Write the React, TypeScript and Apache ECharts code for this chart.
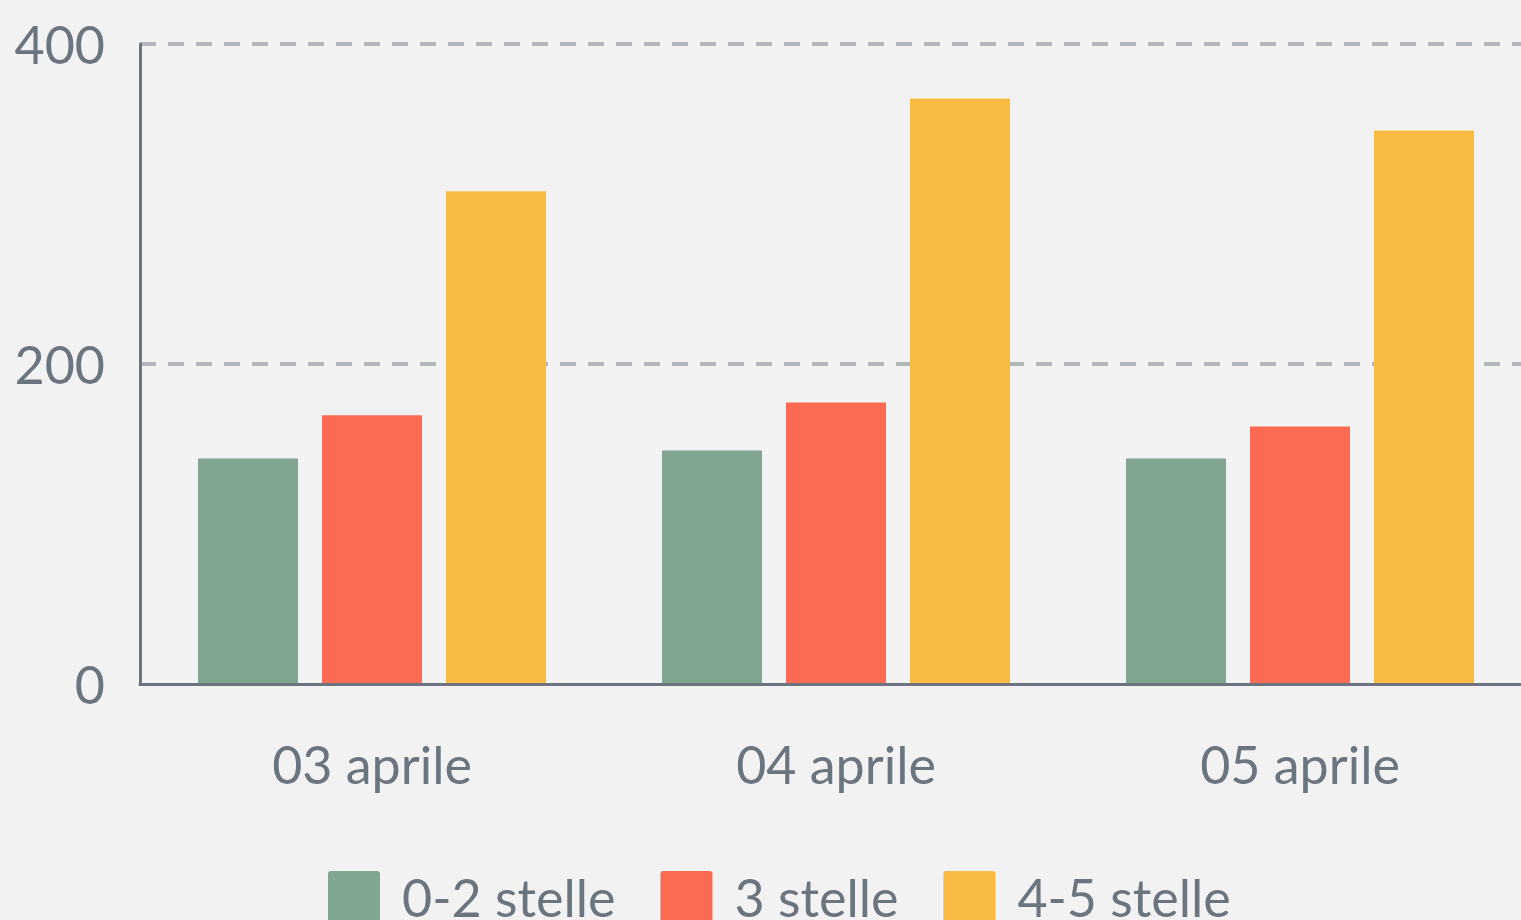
import React, { useEffect, useRef } from "react";
import * as echarts from "echarts";

const categories = ["03 aprile", "04 aprile", "05 aprile"];
const seriesNames = ["0-2 stelle", "3 stelle", "4-5 stelle"];
const low = [141, 146, 141];
const mid = [168, 176, 161];
const high = [308, 366, 346];
const yTicks = { min: 0, max: 400, interval: 200 };

const colors = ["#80a690", "#fb6a53", "#f9bb41"];
const textColor = "#6b7580";
const font = "Lato";

export default function App() {
  const ref = useRef<HTMLDivElement>(null);
  useEffect(() => {
    if (!ref.current) return;
    const chart = echarts.init(ref.current, null, { renderer: "svg" });
    const icon =
      "path://M3,0H49Q52,0 52,3V49Q52,52 49,52H3Q0,52 0,49V3Q0,0 3,0Z";
    const values = [low, mid, high];
    chart.setOption({
      animation: false,
      backgroundColor: "#f2f2f2",
      color: colors,
      grid: {
        left: 140,
        top: 44,
        right: -11,
        bottom: 236,
        containLabel: false,
        outerBoundsMode: "none",
      },
      legend: {
        left: 328,
        top: 871,
        padding: 0,
        itemWidth: 52,
        itemHeight: 52,
        itemGap: 45,
        icon,
        data: seriesNames,
        textStyle: {
          fontFamily: font,
          fontSize: 52,
          color: textColor,
          padding: [0, 0, 0, 17],
        },
      },
      xAxis: {
        type: "category",
        data: categories,
        axisLine: { show: true, lineStyle: { color: "#6b7480", width: 3 } },
        axisTick: { show: false },
        axisLabel: {
          margin: 54,
          fontFamily: font,
          fontSize: 52,
          color: textColor,
        },
        splitLine: { show: false },
        z: 3,
      },
      yAxis: {
        type: "value",
        min: yTicks.min,
        max: yTicks.max,
        interval: yTicks.interval,
        axisLine: { show: true, lineStyle: { color: "#6b7480", width: 3 } },
        axisTick: { show: false },
        axisLabel: {
          margin: 35,
          fontFamily: font,
          fontSize: 52,
          color: textColor,
        },
        splitLine: {
          show: true,
          showMinLine: false,
          lineStyle: { color: "#b2b6ba", width: 4, type: [16, 12] },
        },
      },
      series: seriesNames.map((name, i) => ({
        name,
        type: "bar",
        data: values[i],
        barWidth: 100,
        barGap: "24%",
        itemStyle: { color: colors[i] },
        z: 2,
      })),
    });
    return () => chart.dispose();
  }, []);
  return (
    <div
      ref={ref}
      style={{ position: "fixed", left: 0, top: 0, width: 1521, height: 920 }}
    />
  );
}
